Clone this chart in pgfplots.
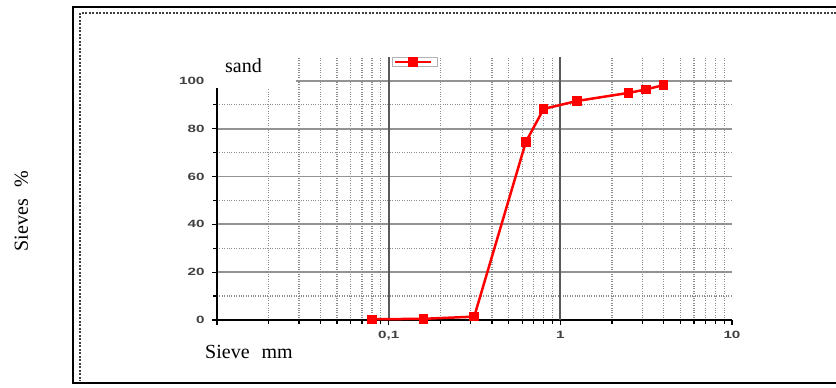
\documentclass[border=0pt]{standalone}
\usepackage{pgfplots}
\pgfplotsset{compat=1.18}
\usepackage{graphicx}
\usepackage{fontspec}
\setmainfont{Liberation Serif}
\newfontfamily\ticksans{Liberation Sans}
\begin{document}
\begin{tikzpicture}
\path[use as bounding box] (0pt,0pt) rectangle (836pt,388pt);
% frame
\draw[line width=2pt] (840pt,381pt) -- (73pt,381pt) -- (73pt,5pt) -- (840pt,5pt);
\draw[line width=2pt, black!75, dash pattern=on 2pt off 1.5pt] (836pt,375pt) -- (80pt,375pt) -- (80pt,7pt);
\begin{axis}[
  at={(217pt,68pt)}, anchor=south west,
  scale only axis, width=515pt, height=263pt,
  xmode=log, xmin=0.01, xmax=10, ymin=0, ymax=110,
  axis x line*=bottom, axis y line*=left,
  axis line style={line width=2pt, black},
  xtick={0.01,0.1,1,10},
  xticklabels={,\scalebox{1.45}[1]{0,1},\scalebox{1.45}[1]{1},\scalebox{1.45}[1]{10}},
  ytick={0,20,40,60,80,100},
  yticklabels={\scalebox{1.45}[1]{0},\scalebox{1.45}[1]{20},\scalebox{1.45}[1]{40},\scalebox{1.45}[1]{60},\scalebox{1.45}[1]{80},\scalebox{1.45}[1]{100}},
  minor ytick={10,30,50,70,90},
  tick label style={font=\ticksans\bfseries\fontsize{10.5}{10.5}\selectfont, text=black!75},
  xticklabel style={yshift=-3pt},
  yticklabel style={xshift=-4pt},
  tick align=outside, major tick length=5pt, minor tick length=4pt,
  tick style={black, line width=1.2pt},
  ymajorgrids, yminorgrids, xminorgrids,
  major grid style={gray!85, line width=1.8pt},
  minor grid style={gray!90, dotted, line width=1.2pt},
  extra x ticks={0.1,1}, extra x tick labels={},
  extra x tick style={grid=major, major grid style={black!65, line width=2pt}},
  legend style={at={(rel axis cs:0.34,1)}, anchor=north west, draw=gray!60, line width=1pt, inner sep=1pt, font=\small},
  legend image code/.code={\draw[mark repeat=2,mark phase=2,#1] plot coordinates {(0pt,0pt) (18pt,0pt) (36pt,0pt)};},
  clip=false,
]
\addplot[red, line width=2.5pt, mark=square*, mark size=3.5pt, mark options={solid}]
  coordinates {(0.08,0.3) (0.16,0.5) (0.315,1.4) (0.63,74.5) (0.8,88.3) (1.25,91.6) (2.5,95) (3.15,96.4) (4,98.3)};
\addlegendentry{}
\end{axis}
\fill[white] (209pt,300pt) rectangle (296pt,334pt);
\node[anchor=base west, inner sep=0pt, font=\fontsize{20}{20}\selectfont] at (225pt,315pt) {sand};
\node[anchor=base west, inner sep=0pt, font=\fontsize{20}{20}\selectfont] at (205pt,29pt) {Sieve\hspace{0.6em}mm};
\node[anchor=base, rotate=90, inner sep=0pt, font=\fontsize{20}{20}\selectfont] at (28pt,177pt) {Sieves\hspace{0.6em}\%};
\end{tikzpicture}
\end{document}
